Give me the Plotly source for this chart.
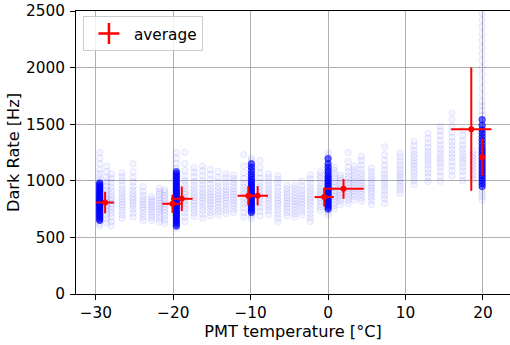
import plotly.graph_objects as go

# ---- data ----
scan_temps = [-29.5, -28.6, -28.0, -26.6, -25.2, -23.9, -22.8, -21.8, -21.1, -19.6, -18.5,
              -17.3, -16.2, -15.2, -14.2, -13.2, -12.2, -10.9, -9.9, -8.8, -7.7, -6.5,
              -5.3, -4.3, -3.4, -2.3, -1.0, 0.0, 0.8, 1.6, 2.6, 3.4, 4.3, 5.6, 7.3, 9.3,
              11.1, 12.9, 14.5, 16.0, 17.4, 18.7, 19.9]
scan_rates = [
    [600, 620, 1000, 1030, 1060, 1100, 1150, 1200, 1250],
    [630, 665, 700, 730, 760, 785, 810, 835, 860, 890, 920, 955, 990, 1030, 1080, 1130],
    [600, 640, 680, 715, 745, 775, 800, 825, 850, 880, 910, 945, 985, 1020, 1060],
    [670, 700, 735, 765, 790, 815, 840, 865, 895, 925, 960, 1000, 1035, 1070],
    [680, 715, 750, 780, 805, 830, 855, 885, 915, 950, 990, 1030, 1080, 1150],
    [650, 680, 710, 740, 765, 790, 815, 840, 870, 905, 950],
    [650, 675, 700, 725, 750, 770, 790, 815, 835, 860],
    [635, 665, 695, 725, 750, 775, 800, 825, 850, 880, 905, 935],
    [625, 655, 690, 720, 745, 770, 795, 820, 845, 870, 895, 920],
    [580, 1110, 1150, 1200, 1250],
    [640, 680, 715, 750, 780, 805, 830, 855, 880, 905, 935, 965, 1000, 1040, 1090, 1150, 1250],
    [685, 715, 745, 775, 800, 825, 850, 875, 900, 930, 960, 995, 1035, 1075, 1115],
    [670, 705, 740, 770, 800, 825, 850, 875, 900, 930, 965, 1000, 1045, 1090, 1130],
    [690, 720, 750, 780, 805, 830, 855, 880, 905, 935, 970, 1010, 1055, 1100],
    [700, 730, 760, 790, 815, 840, 865, 890, 920, 950, 985, 1030, 1080],
    [710, 740, 770, 800, 825, 850, 875, 900, 925, 955, 990, 1025, 1060],
    [720, 750, 780, 805, 830, 855, 880, 905, 930, 960, 990, 1020, 1050],
    [680, 720, 760, 795, 825, 855, 885, 915, 945, 980, 1020, 1070, 1130, 1230],
    [670, 695, 1180, 1200],
    [690, 730, 765, 800, 830, 860, 890, 920, 950, 985, 1025, 1070, 1120, 1180],
    [700, 735, 765, 795, 825, 850, 875, 900, 930, 960, 995, 1030, 1060],
    [635, 670, 705, 740, 770, 800, 825, 850, 880, 910, 945, 980, 1015, 1045],
    [690, 720, 750, 775, 800, 825, 850, 875, 900, 930, 960],
    [680, 710, 740, 770, 795, 820, 845, 870, 900, 930, 960],
    [700, 730, 760, 790, 815, 840, 865, 890, 920, 955, 995],
    [640, 675, 710, 745, 775, 805, 830, 855, 885, 915, 945, 980, 1015, 1050],
    [740, 770, 800, 825, 850, 875, 900, 925, 955, 985, 1020, 1050, 1080],
    [700, 725, 1220, 1250],
    [750, 780, 810, 840, 865, 890, 915, 940, 965, 995, 1025, 1060, 1090, 1120],
    [790, 820, 845, 870, 895, 920, 945, 970, 1000, 1025, 1050],
    [800, 830, 860, 885, 910, 935, 960, 985, 1015, 1045, 1080, 1120, 1170, 1250],
    [830, 860, 885, 910, 935, 960, 985, 1010, 1040, 1070, 1100, 1130],
    [820, 850, 880, 905, 930, 955, 980, 1005, 1035, 1065, 1100, 1140, 1180, 1215],
    [790, 825, 855, 885, 910, 935, 960, 985, 1015, 1045, 1080, 1110],
    [800, 840, 875, 910, 940, 970, 1000, 1030, 1060, 1095, 1135, 1180, 1230, 1300],
    [890, 920, 950, 980, 1005, 1030, 1055, 1080, 1110, 1140, 1175, 1210, 1245],
    [965, 1000, 1035, 1065, 1095, 1125, 1150, 1175, 1205, 1235, 1270, 1310, 1350],
    [995, 1035, 1070, 1105, 1140, 1170, 1200, 1230, 1260, 1295, 1335, 1375, 1420],
    [995, 1040, 1080, 1120, 1155, 1185, 1215, 1245, 1280, 1315, 1355, 1400, 1440, 1480],
    [1045, 1090, 1130, 1170, 1205, 1240, 1275, 1310, 1345, 1385, 1430, 1480, 1540, 1600],
    [1000, 1045, 1085, 1120, 1155, 1185, 1215, 1245, 1280, 1315, 1355, 1400, 1450],
    [1015, 1050, 1080, 1110, 1140, 1170, 1200, 1230, 1260],
    [830, 860, 890, 920, 1580, 1620, 1660, 1700, 1760, 1820, 1880, 1940, 2000, 2060,
     2120, 2180, 2240, 2300, 2360, 2420, 2480],
]

long_temps = [-29.5, -19.6, -9.9, 0.0, 19.9]
long_rates = [
    [650, 665, 680, 695, 710, 722, 735, 748, 760, 772, 784, 795, 806, 817, 828, 840, 852,
     865, 878, 892, 906, 920, 935, 950, 965, 980],
    [600, 618, 636, 654, 672, 690, 706, 722, 738, 754, 770, 785, 800, 815, 830, 845, 860,
     876, 892, 908, 925, 942, 960, 980, 1000, 1020, 1040, 1060, 1080],
    [720, 738, 756, 774, 790, 806, 822, 838, 854, 870, 886, 902, 918, 935, 952, 970, 990,
     1010, 1035, 1060, 1090, 1120, 1150],
    [750, 768, 786, 804, 820, 836, 852, 868, 884, 900, 916, 932, 948, 965, 982, 1000, 1020,
     1040, 1065, 1090, 1120, 1150, 1195],
    [950, 975, 1000, 1025, 1050, 1075, 1100, 1125, 1150, 1175, 1200, 1225, 1250, 1275, 1300,
     1330, 1360, 1390, 1420, 1450, 1490, 1540],
]

avg_temp = [-28.8, -20.1, -18.9, -10.3, -9.1, -0.5, 2.0, 18.5, 19.9]
avg_rate = [808, 797, 841, 868, 868, 856, 929, 1456, 1209]
temp_err = [1.15, 1.3, 1.4, 1.4, 1.35, 1.25, 2.6, 2.6, 0.1]
rate_err = [95, 80, 108, 85, 85, 82, 87, 545, 165]

x_ticks = [-30, -20, -10, 0, 10, 20]
y_ticks = [0, 500, 1000, 1500, 2000, 2500]

# ---- build ----
def flatten(temps, rates):
    xs, ys = [], []
    for t, col in zip(temps, rates):
        xs.extend([t] * len(col))
        ys.extend(col)
    return xs, ys

sx, sy = flatten(scan_temps, scan_rates)
lx, ly = flatten(long_temps, long_rates)

font = "DejaVu Sans"
tick_size = 15.3
label_size = 16.2

fig = go.Figure()
fig.add_trace(go.Scatter(
    x=sx, y=sy, mode="markers", showlegend=False, hoverinfo="skip",
    marker=dict(size=6.5, color="rgba(0,0,255,0.04)",
                line=dict(width=1, color="rgba(0,0,255,0.08)")),
))
fig.add_trace(go.Scatter(
    x=lx, y=ly, mode="markers", showlegend=False, hoverinfo="skip",
    marker=dict(size=6.5, color="rgba(0,0,255,0.6)",
                line=dict(width=1, color="rgba(0,0,255,0.6)")),
))
fig.add_trace(go.Scatter(
    x=avg_temp, y=avg_rate, mode="markers", showlegend=False, hoverinfo="skip",
    marker=dict(size=6, color="red"),
    error_x=dict(type="data", array=temp_err, color="red", thickness=2, width=0),
    error_y=dict(type="data", array=rate_err, color="red", thickness=2, width=0),
))
# legend entry
fig.add_trace(go.Scatter(
    x=[None], y=[None], mode="markers", name="average",
    marker=dict(symbol="cross-thin", size=15, color="red", line=dict(width=2.5, color="red")),
))

axis_common = dict(
    showline=True, linecolor="black", linewidth=1, mirror=True,
    ticks="outside", ticklen=5, tickwidth=1, tickcolor="black",
    showgrid=True, gridcolor="#b0b0b0", gridwidth=1, zeroline=False,
    automargin=False,
    tickfont=dict(family=font, size=tick_size, color="black"),
)
fig.update_xaxes(range=[-32.56, 23.5], tickvals=x_ticks,
                 title=dict(text="PMT temperature [°C]",
                            font=dict(family=font, size=label_size, color="black"), standoff=4),
                 **axis_common)
fig.update_yaxes(range=[0, 2500], tickvals=y_ticks, ticklabelstandoff=2,
                 title=dict(text="Dark Rate [Hz]",
                            font=dict(family=font, size=label_size, color="black"), standoff=2),
                 **axis_common)
fig.update_layout(
    width=510, height=345,
    margin=dict(l=76, r=0, t=11, b=51),
    paper_bgcolor="white", plot_bgcolor="white",
    font=dict(family=font, size=tick_size, color="black"),
    hovermode=False,
    legend=dict(x=0.016, y=0.982, xanchor="left", yanchor="top",
                bgcolor="rgba(255,255,255,0.8)", bordercolor="#cccccc", borderwidth=1,
                itemwidth=40,
                font=dict(family=font, size=tick_size, color="black")),
)
fig.write_html("out.html", config={"displayModeBar": False},
               post_script="document.body.style.margin='0px';")
